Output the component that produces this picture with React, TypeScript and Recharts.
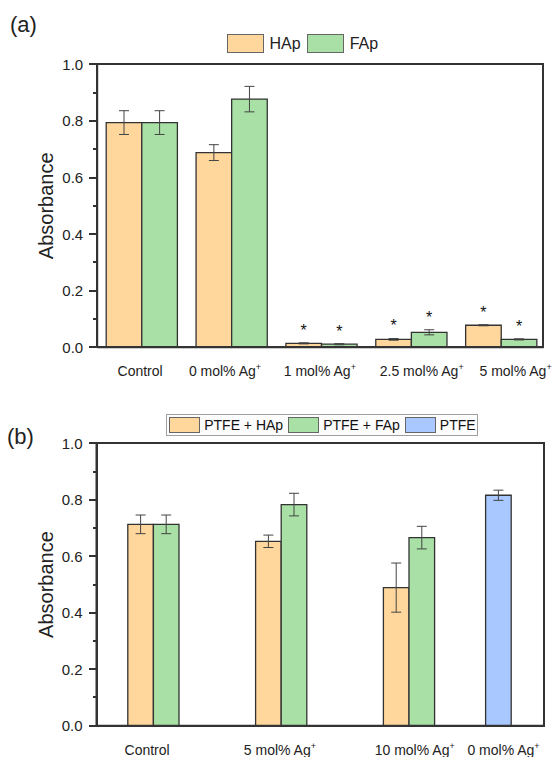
import React from 'react';
import { BarChart, Bar, XAxis, YAxis, ErrorBar, LabelList, Legend } from 'recharts';

// ---- panel (a) ----
const groupsA = ['Control', '0 mol% Ag⁺', '1 mol% Ag⁺', '2.5 mol% Ag⁺', '5 mol% Ag⁺'];
const hapA = [0.794, 0.688, 0.014, 0.028, 0.078];
const hapErrA = [0.042, 0.028, 0.002, 0.003, 0.002];
const fapA = [0.794, 0.877, 0.011, 0.053, 0.028];
const fapErrA = [0.042, 0.045, 0.002, 0.009, 0.002];
const sigA = [false, false, true, true, true];

// ---- panel (b) ----
const groupsB = ['Control', '5 mol% Ag⁺', '10 mol% Ag⁺', '0 mol% Ag⁺'];
const hapB = [0.713, 0.653, 0.489, null];
const hapErrB = [0.033, 0.022, 0.087, null];
const fapB = [0.713, 0.783, 0.666, null];
const fapErrB = [0.033, 0.04, 0.04, null];
const ptfeB = [null, null, null, 0.816];
const ptfeErrB = [null, null, null, 0.018];

const yTicks = [0, 0.1, 0.2, 0.3, 0.4, 0.5, 0.6, 0.7, 0.8, 0.9, 1.0];
const yLabelled = [0, 0.2, 0.4, 0.6, 0.8, 1.0];

const HAP_COLOR = '#FFD79C';
const FAP_COLOR = '#A8E0A5';
const PTFE_COLOR = '#A8C8FF';
const AXIS = '#333';
const TEXT = '#222';
const FONT = '"Liberation Sans", Arial, sans-serif';
const AXIS_W = 2;

const legendA = [
  { name: 'HAp', color: HAP_COLOR },
  { name: 'FAp', color: FAP_COLOR },
];
const legendB = [
  { name: 'PTFE + HAp', color: HAP_COLOR },
  { name: 'PTFE + FAp', color: FAP_COLOR },
  { name: 'PTFE', color: PTFE_COLOR },
];

// plot boxes (page pixels) of the two panels
const boxA = { left: 97.2, right: 543.5, top: 64.3, bottom: 347.3 };
const boxB = { left: 96.5, right: 543.5, top: 443.3, bottom: 725.7 };
const PANEL_B_TOP = 382;

const dataA = groupsA.map((cat, i) => ({
  cat,
  hap: hapA[i],
  hapErr: hapErrA[i],
  fap: fapA[i],
  fapErr: fapErrA[i],
}));

const dataB = groupsB.map((cat, i) => ({
  cat,
  hap: hapB[i],
  hapErr: hapErrB[i],
  fap: fapB[i],
  fapErr: fapErrB[i],
  ptfe: ptfeB[i],
  ptfeErr: ptfeErrB[i],
}));

const YTick = (props: any) => {
  const v = Number(props.payload.value);
  return (
    <text x={props.x} y={props.y} dy="0.36em" textAnchor="end" fontSize={15} fill={TEXT}>
      {v.toFixed(1)}
    </text>
  );
};

const makeXTick = (dxs: number[]) => (props: any) => {
  const { payload, index } = props;
  const x = Number(props.x);
  const y = Number(props.y);
  const label = String(payload.value);
  const sup = label.endsWith('⁺');
  const base = sup ? label.slice(0, -1) : label;
  return (
    <text x={x + (dxs[index] || 0)} y={y + 29} textAnchor="middle" fontSize={14} fill={TEXT}>
      {base}
      {sup && (
        <tspan fontSize={9} dy={-6}>
          +
        </tspan>
      )}
    </text>
  );
};

const yLabel = (props: any) => {
  const vb = props.viewBox;
  const cy = vb.y + vb.height / 2;
  return (
    <text
      x={0}
      y={0}
      dy="0.35em"
      transform={`translate(46,${cy}) rotate(-90)`}
      textAnchor="middle"
      fontSize={20}
      fill={TEXT}
    >
      Absorbance
    </text>
  );
};

const starLabel = (sig: boolean[], err: number[]) => (props: any) => {
  const vb = props.viewBox || props;
  const { index, value } = props;
  if (!sig[index] || !value) return null;
  const pxPerUnit = Math.abs(vb.height) / value;
  const cy = vb.y - err[index] * pxPerUnit - 16.4;
  return (
    <text x={vb.x + vb.width / 2} y={cy + 9.3} textAnchor="middle" fontSize={16} fill="#111">
      *
    </text>
  );
};

// Origin-style box around the plot with outward major/minor ticks on the left
const PlotFrame = ({ box }: { box: { left: number; right: number; top: number; bottom: number } }) => {
  const h = box.bottom - box.top;
  return (
    <>
      <div
        style={{
          position: 'absolute',
          left: box.left - AXIS_W / 2,
          top: box.top - AXIS_W / 2,
          width: box.right - box.left + AXIS_W,
          height: h + AXIS_W,
          border: `${AXIS_W}px solid ${AXIS}`,
          boxSizing: 'border-box',
          pointerEvents: 'none',
        }}
      />
      {yTicks.map((v) => {
        const len = yLabelled.includes(v) ? 8 : 4;
        return (
          <div
            key={v}
            style={{
              position: 'absolute',
              left: box.left - len,
              top: box.bottom - v * h - AXIS_W / 2,
              width: len,
              height: AXIS_W,
              background: AXIS,
            }}
          />
        );
      })}
    </>
  );
};

const LegendBoxA = () => (
  <div style={{ display: 'flex', alignItems: 'center', fontFamily: FONT }}>
    {legendA.map((s, i) => (
      <div key={s.name} style={{ display: 'flex', alignItems: 'center', marginRight: i < legendA.length - 1 ? 6 : 0 }}>
        <div style={{ width: 35, height: 17, background: s.color, border: '1px solid #666', marginRight: 6 }} />
        <span style={{ fontSize: 16, color: TEXT, lineHeight: '18px' }}>{s.name}</span>
      </div>
    ))}
  </div>
);

const LegendBoxB = () => (
  <div
    style={{
      display: 'inline-flex',
      alignItems: 'center',
      fontFamily: FONT,
      border: '1px solid #a0a0a0',
      padding: '2px 1px 2px 2px',
      background: '#fcfcfc',
    }}
  >
    {legendB.map((s, i) => (
      <div key={s.name} style={{ display: 'flex', alignItems: 'center', marginRight: i < legendB.length - 1 ? 5 : 0 }}>
        <div style={{ width: 29, height: 14, background: s.color, border: '1px solid #666', marginRight: 4 }} />
        <span style={{ fontSize: 14, color: '#111', lineHeight: '16px' }}>{s.name}</span>
      </div>
    ))}
  </div>
);

const yAxisCommon = {
  domain: [0, 1] as [number, number],
  ticks: yLabelled,
  interval: 0 as const,
  tickLine: false,
  tickSize: 8,
  tickMargin: 6,
  axisLine: { stroke: AXIS, strokeWidth: AXIS_W },
  tick: YTick,
  label: yLabel,
};

export default function App() {
  return (
    <div
      style={{
        position: 'absolute',
        left: 0,
        top: 0,
        width: 553,
        height: 757,
        background: '#fff',
        fontFamily: FONT,
        color: TEXT,
      }}
    >
      {/* Panel (a) */}
      <div style={{ position: 'absolute', left: 0, top: 0 }}>
        <BarChart
          width={553}
          height={382}
          data={dataA}
          margin={{ top: boxA.top, right: 553 - boxA.right, bottom: 0, left: 0 }}
          barGap={0}
        >
          <XAxis
            dataKey="cat"
            height={382 - boxA.bottom}
            interval={0}
            tickLine={false}
            tickSize={0}
            tickMargin={0}
            padding={{ left: 0, right: -3 }}
            axisLine={{ stroke: AXIS, strokeWidth: AXIS_W }}
            tick={makeXTick([-2, -7, -2, 10, 14])}
          />
          <YAxis width={boxA.left} {...yAxisCommon} />
          <Legend
            verticalAlign="middle"
            align="center"
            wrapperStyle={{ top: 34, left: 226.5, width: 'auto' }}
            content={() => <LegendBoxA />}
          />
          <Bar dataKey="hap" name="HAp" fill={HAP_COLOR} stroke={AXIS} strokeWidth={1.3} barSize={35.6} isAnimationActive={false}>
            <ErrorBar dataKey="hapErr" width={5} stroke="#444" strokeWidth={1} />
            <LabelList dataKey="hap" content={starLabel(sigA, hapErrA)} />
          </Bar>
          <Bar dataKey="fap" name="FAp" fill={FAP_COLOR} stroke={AXIS} strokeWidth={1.3} barSize={35.6} isAnimationActive={false}>
            <ErrorBar dataKey="fapErr" width={5} stroke="#444" strokeWidth={1} />
            <LabelList dataKey="fap" content={starLabel(sigA, fapErrA)} />
          </Bar>
        </BarChart>
      </div>

      {/* Panel (b) */}
      <div style={{ position: 'absolute', left: 0, top: PANEL_B_TOP }}>
        <BarChart
          width={553}
          height={375}
          data={dataB}
          margin={{ top: boxB.top - PANEL_B_TOP, right: 553 - boxB.right, bottom: 0, left: 0 }}
          barGap={0}
        >
          <XAxis
            dataKey="cat"
            height={PANEL_B_TOP + 375 - boxB.bottom}
            interval={0}
            tickLine={false}
            tickSize={0}
            tickMargin={0}
            padding={{ left: -19.3, right: -44.9 }}
            axisLine={{ stroke: AXIS, strokeWidth: AXIS_W }}
            tick={makeXTick([6, 11, 18, -21])}
          />
          <YAxis width={boxB.left} {...yAxisCommon} />
          <Legend
            verticalAlign="middle"
            align="center"
            wrapperStyle={{ top: 32.3, left: 166.2, width: 'auto' }}
            content={() => <LegendBoxB />}
          />
          <Bar dataKey="ptfe" name="PTFE" fill={PTFE_COLOR} stroke={AXIS} strokeWidth={1.3} barSize={25.6} isAnimationActive={false}>
            <ErrorBar dataKey="ptfeErr" width={5} stroke="#444" strokeWidth={1} />
          </Bar>
          <Bar dataKey="hap" name="PTFE + HAp" fill={HAP_COLOR} stroke={AXIS} strokeWidth={1.3} barSize={25.6} isAnimationActive={false}>
            <ErrorBar dataKey="hapErr" width={5} stroke="#444" strokeWidth={1} />
          </Bar>
          <Bar dataKey="fap" name="PTFE + FAp" fill={FAP_COLOR} stroke={AXIS} strokeWidth={1.3} barSize={25.6} isAnimationActive={false}>
            <ErrorBar dataKey="fapErr" width={5} stroke="#444" strokeWidth={1} />
          </Bar>
        </BarChart>
      </div>

      <PlotFrame box={boxA} />
      <PlotFrame box={boxB} />

      <div style={{ position: 'absolute', left: 10, top: 14, fontSize: 22, lineHeight: '22px', color: TEXT }}>(a)</div>
      <div style={{ position: 'absolute', left: 7, top: 426, fontSize: 22, lineHeight: '22px', color: TEXT }}>(b)</div>
    </div>
  );
}
